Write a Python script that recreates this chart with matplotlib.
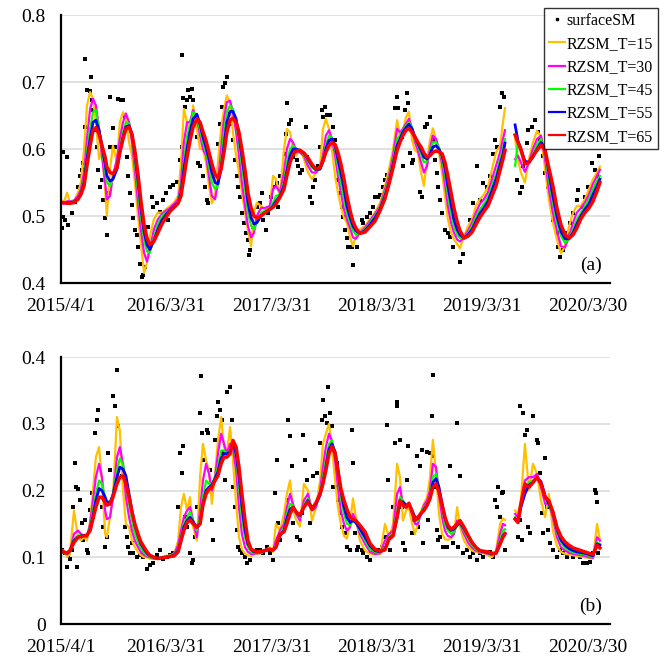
import numpy as np
import matplotlib
matplotlib.use('Agg')
import matplotlib.pyplot as plt
import matplotlib.dates as mdates
from matplotlib.lines import Line2D
from datetime import datetime

plt.rcParams['font.family'] = ['Liberation Serif', 'DejaVu Serif']
nan = float('nan')

# ---------------- data ----------------
start_date = '2015-04-01'
tick_labels = ['2015/4/1', '2016/3/31', '2017/3/31', '2018/3/31', '2019/3/31', '2020/3/30']
series_names = ['RZSM_T=15', 'RZSM_T=30', 'RZSM_T=45', 'RZSM_T=55', 'RZSM_T=65']
series_colors = ['#FFC000', '#FF00FF', '#00FF00', '#0000FF', '#FF0000']

# days since 2015/4/1 (1556 = data gap)
days = [0, 10, 21, 31, 45, 59, 69, 80, 90, 101,
        111, 121, 132, 142, 153, 159, 170, 180, 194, 204,
        215, 225, 236, 246, 256, 267, 277, 288, 298, 308,
        322, 336, 350, 364, 378, 392, 406, 416, 426, 437,
        447, 458, 471, 482, 492, 503, 513, 523, 534, 544,
        555, 565, 575, 586, 596, 607, 617, 627, 638, 648,
        659, 669, 679, 693, 707, 724, 735, 745, 759, 773,
        783, 794, 804, 815, 828, 842, 856, 870, 884, 898,
        908, 918, 929, 939, 950, 960, 970, 981, 991, 1002,
        1012, 1022, 1036, 1054, 1071, 1088, 1106, 1123, 1137, 1151,
        1165, 1175, 1185, 1196, 1206, 1217, 1227, 1237, 1248, 1258,
        1269, 1279, 1289, 1300, 1310, 1321, 1331, 1341, 1352, 1362,
        1373, 1383, 1397, 1411, 1425, 1438, 1452, 1466, 1480, 1494,
        1508, 1522, 1532, 1539, 1556, 1574, 1584, 1594, 1608, 1622,
        1636, 1650, 1664, 1678, 1691, 1705, 1719, 1733, 1747, 1761,
        1775, 1788, 1802, 1816, 1830, 1844, 1858, 1868]

# ---- panel (a) ----
a_T15 = [.525, .520, .535, .520, .522, .535, .550, .600, .665, .685,
         .675, .640, .585, .600, .540, .500, .570, .605, .580, .640,
         .655, .645, .610, .590, .550, .500, .460, .415, .430, .470,
         .495, .505, .505, .510, .515, .520, .530, .580, .660, .640,
         .620, .665, .630, .600, .600, .580, .545, .519, .530, .580,
         .630, .660, .680, .670, .625, .590, .565, .535, .505, .478,
         .455, .505, .520, .515, .510, .515, .560, .555, .530, .600,
         .630, .625, .600, .590, .600, .585, .565, .555, .565, .575,
         .630, .645, .630, .600, .560, .535, .515, .497, .490, .468,
         .455, .470, .480, .485, .495, .505, .520, .545, .570, .600,
         .643, .618, .628, .648, .656, .613, .598, .595, .565, .545,
         .585, .613, .631, .613, .594, .564, .530, .495, .475, .465,
         .458, .452, .470, .485, .495, .515, .525, .532, .544, .570,
         .595, .605, .640, .661, nan, .615, .585, .565, .550, .585,
         .610, .627, .618, .570, .525, .490, .465, .444, .455, .485,
         .505, .515, .515, .525, .540, .555, .565, .574]
a_T30 = [.520, .518, .522, .522, .523, .530, .540, .565, .615, .660,
         .675, .665, .630, .590, .550, .525, .530, .560, .585, .615,
         .640, .653, .640, .610, .570, .520, .480, .445, .432, .450,
         .480, .495, .503, .508, .512, .518, .525, .550, .610, .640,
         .640, .658, .645, .620, .600, .590, .560, .530, .525, .550,
         .600, .645, .670, .672, .655, .625, .590, .550, .515, .485,
         .468, .475, .500, .512, .512, .515, .540, .545, .535, .565,
         .600, .615, .610, .598, .595, .590, .575, .565, .565, .572,
         .590, .620, .628, .615, .590, .560, .535, .510, .495, .482,
         .468, .466, .475, .483, .493, .503, .515, .540, .560, .590,
         .630, .625, .630, .638, .645, .630, .610, .598, .580, .565,
         .575, .600, .620, .615, .600, .578, .548, .515, .490, .475,
         .465, .462, .468, .478, .490, .505, .518, .525, .535, .555,
         .575, .595, .615, .628, nan, .585, .590, .580, .566, .580,
         .600, .615, .620, .585, .540, .505, .478, .455, .453, .470,
         .490, .505, .512, .520, .532, .548, .560, .569]
a_T45 = [.520, .520, .520, .521, .522, .527, .535, .555, .595, .630,
         .655, .658, .630, .600, .568, .550, .545, .555, .575, .600,
         .625, .640, .638, .618, .582, .538, .500, .465, .447, .445,
         .468, .488, .500, .505, .510, .516, .522, .540, .580, .620,
         .635, .655, .650, .628, .610, .595, .575, .550, .540, .545,
         .580, .625, .655, .665, .660, .640, .610, .575, .540, .505,
         .485, .480, .490, .505, .508, .512, .520, .530, .532, .550,
         .580, .600, .605, .600, .598, .592, .582, .572, .568, .570,
         .585, .605, .620, .617, .600, .575, .550, .525, .505, .490,
         .478, .472, .474, .480, .490, .500, .512, .535, .555, .582,
         .615, .620, .628, .635, .640, .632, .615, .605, .592, .580,
         .582, .595, .610, .610, .603, .585, .562, .532, .505, .485,
         .472, .467, .467, .474, .485, .498, .510, .518, .528, .545,
         .562, .585, .600, .615, nan, .575, .610, .595, .578, .580,
         .592, .607, .615, .595, .555, .520, .490, .470, .460, .465,
         .480, .495, .505, .515, .525, .540, .553, .560]
a_T55 = [.520, .520, .520, .520, .521, .526, .533, .550, .585, .615,
         .640, .643, .628, .605, .578, .560, .552, .555, .570, .595,
         .618, .633, .635, .622, .592, .552, .512, .477, .457, .450,
         .463, .480, .494, .502, .509, .515, .520, .535, .570, .600,
         .625, .645, .652, .637, .618, .602, .585, .565, .550, .548,
         .570, .605, .640, .656, .656, .645, .620, .590, .556, .520,
         .497, .488, .490, .500, .505, .510, .515, .522, .530, .545,
         .567, .590, .600, .600, .598, .594, .585, .575, .569, .570,
         .582, .600, .613, .615, .605, .585, .565, .540, .515, .498,
         .485, .478, .474, .478, .487, .497, .510, .530, .550, .577,
         .605, .615, .625, .632, .637, .630, .618, .608, .598, .588,
         .585, .592, .603, .605, .600, .590, .572, .545, .518, .495,
         .480, .472, .467, .472, .480, .492, .504, .512, .522, .538,
         .555, .577, .592, .609, nan, .636, .612, .600, .582, .580,
         .588, .600, .610, .600, .565, .530, .500, .477, .466, .466,
         .475, .488, .500, .510, .518, .532, .545, .555]
a_T65 = [.520, .520, .519, .519, .520, .525, .532, .545, .575, .605,
         .628, .632, .622, .605, .588, .573, .565, .563, .572, .595,
         .615, .630, .633, .622, .598, .562, .523, .487, .467, .457,
         .462, .475, .488, .498, .507, .513, .519, .530, .558, .588,
         .612, .633, .645, .640, .626, .612, .595, .578, .562, .557,
         .570, .595, .625, .643, .646, .640, .625, .600, .568, .535,
         .512, .500, .497, .500, .505, .510, .513, .518, .528, .540,
         .560, .580, .592, .597, .598, .594, .587, .577, .570, .572,
         .582, .595, .605, .610, .607, .595, .578, .555, .530, .508,
         .492, .482, .474, .476, .484, .492, .508, .526, .548, .572,
         .598, .610, .620, .628, .631, .625, .618, .610, .603, .594,
         .588, .590, .595, .597, .596, .593, .580, .560, .535, .512,
         .492, .478, .467, .470, .476, .487, .498, .507, .515, .530,
         .545, .568, .585, .598, nan, .621, .610, .600, .578, .580,
         .590, .598, .606, .598, .572, .545, .512, .487, .472, .467,
         .472, .482, .496, .505, .512, .522, .537, .550]

# ---- panel (b) ----
b_T15 = [.110, .110, .100, .105, .170, .130, .125, .130, .125, .155,
         .200, .250, .265, .215, .135, .130, .160, .190, .310, .290,
         .200, .150, .145, .125, .115, .108, .103, .100, .100, .098,
         .097, .098, .100, .102, .103, .105, .125, .175, .195, .170,
         .190, .145, .125, .220, .270, .245, .230, .180, .225, .275,
         .310, .265, .255, .295, .245, .180, .130, .112, .105, .103,
         .102, .104, .105, .106, .110, .115, .108, .150, .140, .165,
         .195, .215, .170, .156, .146, .210, .200, .155, .175, .215,
         .270, .285, .300, .265, .215, .175, .150, .132, .128, .150,
         .188, .160, .125, .110, .105, .104, .105, .150, .130, .150,
         .240, .220, .155, .170, .175, .150, .135, .150, .170, .180,
         .190, .220, .276, .225, .165, .135, .127, .126, .128, .135,
         .175, .145, .125, .115, .110, .108, .107, .106, .103, .100,
         .110, .150, .158, .156, nan, .170, .165, .185, .270, .200,
         .240, .225, .185, .160, .195, .140, .117, .108, .105, .104,
         .103, .102, .101, .100, .099, .098, .150, .125]
b_T30 = [.108, .108, .105, .108, .135, .140, .135, .132, .130, .150,
         .185, .220, .240, .220, .170, .157, .160, .190, .250, .265,
         .240, .190, .160, .140, .125, .115, .108, .104, .101, .100,
         .098, .098, .100, .101, .102, .104, .118, .140, .160, .170,
         .175, .155, .130, .170, .215, .240, .225, .200, .220, .255,
         .285, .270, .255, .270, .265, .230, .175, .135, .115, .108,
         .105, .105, .106, .107, .110, .112, .110, .125, .140, .150,
         .175, .195, .180, .165, .155, .185, .195, .170, .175, .200,
         .235, .265, .285, .275, .245, .205, .170, .150, .140, .145,
         .165, .155, .135, .120, .108, .105, .106, .125, .135, .140,
         .195, .205, .180, .175, .180, .165, .150, .150, .165, .178,
         .185, .200, .240, .235, .195, .160, .140, .132, .130, .135,
         .155, .150, .135, .122, .114, .110, .108, .107, .105, .103,
         .108, .135, .150, .148, nan, .165, .160, .180, .215, .220,
         .220, .225, .205, .180, .180, .160, .130, .115, .110, .107,
         .105, .104, .103, .102, .100, .099, .130, .125]
b_T45 = [.108, .108, .106, .108, .128, .132, .133, .133, .132, .145,
         .170, .195, .215, .210, .190, .180, .180, .195, .230, .248,
         .240, .210, .180, .155, .135, .123, .113, .107, .103, .100,
         .099, .098, .100, .101, .102, .103, .112, .130, .150, .160,
         .168, .155, .140, .160, .190, .215, .210, .210, .220, .235,
         .260, .260, .255, .260, .270, .250, .205, .160, .130, .115,
         .108, .106, .107, .108, .110, .112, .111, .118, .135, .145,
         .165, .180, .178, .168, .160, .178, .188, .175, .178, .195,
         .220, .245, .270, .275, .255, .225, .190, .165, .150, .148,
         .155, .152, .140, .125, .112, .108, .107, .115, .130, .135,
         .170, .190, .185, .178, .180, .170, .158, .155, .165, .175,
         .180, .192, .220, .225, .205, .175, .150, .140, .135, .138,
         .148, .150, .140, .128, .118, .112, .109, .108, .106, .104,
         .107, .125, .140, .142, nan, .160, .155, .175, .200, .212,
         .215, .220, .210, .190, .178, .165, .138, .122, .114, .110,
         .107, .106, .105, .104, .102, .100, .122, .120]
b_T55 = [.108, .108, .106, .110, .125, .130, .132, .133, .133, .142,
         .162, .185, .203, .200, .190, .183, .182, .193, .220, .235,
         .232, .222, .195, .170, .148, .132, .120, .112, .106, .102,
         .100, .098, .099, .100, .101, .103, .110, .125, .145, .155,
         .160, .153, .145, .150, .180, .200, .205, .208, .218, .228,
         .248, .255, .255, .258, .270, .255, .222, .178, .140, .120,
         .112, .108, .108, .108, .110, .112, .111, .115, .132, .140,
         .158, .172, .175, .168, .162, .175, .185, .173, .180, .193,
         .212, .235, .262, .270, .258, .232, .200, .175, .160, .152,
         .155, .152, .143, .130, .117, .110, .108, .112, .128, .133,
         .160, .182, .183, .178, .180, .170, .160, .158, .165, .172,
         .178, .188, .212, .218, .205, .180, .158, .145, .140, .142,
         .148, .152, .143, .132, .122, .115, .110, .108, .107, .105,
         .106, .120, .132, .136, nan, .158, .152, .175, .195, .208,
         .212, .220, .213, .192, .180, .168, .142, .126, .118, .113,
         .110, .108, .107, .106, .104, .102, .120, .118]
b_T65 = [.108, .108, .106, .110, .122, .130, .131, .132, .133, .140,
         .158, .175, .190, .190, .182, .178, .180, .190, .210, .220,
         .222, .210, .190, .168, .150, .135, .123, .115, .108, .103,
         .100, .098, .099, .100, .101, .102, .108, .125, .140, .152,
         .156, .150, .145, .150, .178, .195, .202, .205, .215, .222,
         .240, .250, .250, .255, .275, .265, .235, .195, .155, .125,
         .112, .110, .108, .109, .110, .112, .111, .115, .135, .138,
         .150, .165, .175, .168, .163, .175, .183, .172, .182, .195,
         .210, .230, .255, .266, .256, .230, .203, .185, .172, .160,
         .157, .155, .148, .138, .121, .112, .109, .111, .127, .132,
         .160, .185, .178, .175, .181, .168, .155, .160, .166, .170,
         .178, .188, .205, .210, .198, .178, .160, .148, .142, .145,
         .150, .155, .145, .133, .122, .115, .110, .109, .108, .106,
         .106, .120, .130, .135, nan, .157, .152, .180, .210, .205,
         .212, .220, .210, .190, .185, .168, .145, .131, .123, .118,
         .114, .112, .110, .108, .106, .104, .118, .114]

# surface soil moisture observations: (day since 2015/4/1, value)
a_surface = [(6, .596), (20, .588), (8, .499), (14, .494), (25, .487), (2, .482), (37, .504), (49, .521),
             (60, .544), (66, .559), (72, .569), (77, .579), (83, .633), (91, .688), (84, .734), (101, .686),
             (104, .707), (106, .673), (112, .658), (118, .628), (124, .603), (129, .569), (135, .544),
             (141, .554), (147, .524), (153, .497), (158, .472), (164, .534), (170, .603), (170, .678),
             (181, .631), (187, .603), (193, .588), (199, .674), (207, .673), (214, .673), (222, .648),
             (228, .588), (233, .559), (239, .534), (245, .516), (251, .497), (256, .479), (262, .472),
             (268, .454), (274, .429), (280, .409), (285, .412), (291, .424), (303, .484), (314, .529),
             (320, .514), (332, .519), (343, .506), (355, .524), (364, .534), (372, .494), (378, .544),
             (389, .546), (401, .551), (412, .584), (418, .603), (418, .740), (422, .676), (430, .663),
             (436, .673), (441, .688), (447, .678), (453, .690), (456, .673), (464, .638), (470, .618),
             (476, .579), (482, .574), (493, .559), (499, .544), (505, .524), (511, .519), (537, .564),
             (545, .608), (551, .638), (557, .663), (563, .693), (568, .698), (576, .707), (586, .653),
             (589, .638), (597, .613), (603, .583), (609, .559), (615, .544), (620, .529), (626, .504),
             (634, .489), (641, .474), (647, .464), (651, .442), (655, .449), (667, .484), (678, .514),
             (690, .519), (696, .534), (701, .494), (710, .479), (719, .504), (727, .529), (734, .544),
             (748, .549), (753, .514), (759, .559), (776, .593), (780, .623), (784, .669), (791, .638),
             (796, .643), (803, .588), (811, .598), (817, .583), (822, .574), (828, .564), (834, .569),
             (849, .633), (854, .588), (863, .529), (869, .519), (874, .544), (880, .554), (892, .574),
             (898, .603), (904, .658), (909, .648), (915, .663), (921, .651), (932, .651), (944, .633),
             (950, .613), (956, .584), (961, .554), (967, .534), (973, .514), (978, .499), (984, .479),
             (990, .467), (996, .454), (1008, .454), (1013, .427), (1025, .454), (1030, .474),
             (1042, .494), (1048, .489), (1060, .499), (1071, .504), (1082, .514), (1088, .529),
             (1100, .529), (1106, .531), (1117, .544), (1123, .554), (1129, .561), (1140, .569),
             (1152, .589), (1158, .661), (1164, .678), (1169, .661), (1181, .618), (1186, .574),
             (1192, .658), (1200, .684), (1204, .668), (1210, .594), (1216, .579), (1221, .584),
             (1244, .536), (1250, .529), (1262, .633), (1267, .638), (1279, .648), (1290, .613),
             (1296, .584), (1302, .564), (1308, .544), (1314, .524), (1320, .504), (1331, .479),
             (1342, .474), (1348, .469), (1360, .454), (1383, .432), (1394, .444), (1406, .474),
             (1418, .494), (1429, .519), (1441, .574), (1452, .524), (1464, .549), (1475, .544),
             (1487, .559), (1498, .593), (1504, .613), (1510, .603), (1522, .663), (1527, .683),
             (1535, .678), (1579, .554), (1591, .534), (1597, .544), (1602, .574), (1614, .609),
             (1620, .628), (1631, .633), (1643, .643), (1655, .625), (1662, .615), (1672, .589),
             (1678, .564), (1689, .544), (1701, .514), (1706, .494), (1718, .474), (1724, .454),
             (1730, .439), (1741, .449), (1753, .474), (1764, .489), (1776, .504), (1787, .524),
             (1793, .539), (1805, .514), (1816, .529), (1828, .544), (1839, .579), (1851, .569),
             (1857, .559), (1866, .589)]

b_surface = [(2, .111), (14, .106), (20, .086), (25, .103), (31, .098), (37, .111), (43, .176), (49, .241),
             (52, .206), (56, .086), (60, .203), (66, .186), (72, .151), (77, .126), (83, .156), (89, .111),
             (95, .106), (101, .171), (106, .196), (112, .161), (118, .286), (124, .306), (129, .321),
             (141, .176), (147, .146), (153, .116), (158, .131), (164, .256), (170, .231), (181, .341),
             (187, .326), (193, .380), (199, .296), (210, .221), (222, .146), (228, .131), (233, .116),
             (239, .106), (245, .121), (251, .106), (262, .101), (274, .103), (285, .101), (297, .083),
             (308, .088), (320, .091), (332, .103), (343, .111), (355, .098), (366, .101), (378, .103),
             (389, .106), (401, .111), (407, .176), (412, .256), (418, .226), (424, .266), (430, .161),
             (436, .146), (447, .106), (453, .091), (459, .096), (464, .131), (470, .176), (482, .316),
             (485, .371), (488, .286), (493, .246), (499, .196), (505, .291), (511, .286), (516, .231),
             (522, .156), (528, .126), (534, .276), (540, .311), (545, .333), (551, .321), (557, .306),
             (563, .256), (568, .216), (574, .348), (586, .355), (592, .306), (597, .206), (603, .176),
             (609, .141), (615, .116), (620, .111), (626, .106), (638, .101), (644, .091), (655, .096),
             (667, .106), (678, .111), (690, .111), (701, .106), (713, .116), (724, .106), (736, .096),
             (742, .196), (748, .246), (753, .151), (759, .126), (770, .146), (782, .186), (788, .306),
             (794, .281), (799, .236), (805, .151), (817, .131), (828, .126), (834, .166), (840, .283),
             (846, .246), (851, .216), (863, .151), (869, .176), (874, .221), (886, .226), (898, .271),
             (904, .306), (909, .336), (915, .311), (921, .301), (926, .355), (932, .316), (938, .296),
             (944, .206), (950, .206), (956, .241), (961, .186), (967, .166), (973, .146), (984, .136),
             (990, .116), (1002, .111), (1008, .291), (1013, .241), (1019, .136), (1025, .111),
             (1030, .116), (1042, .111), (1048, .106), (1060, .101), (1071, .096), (1082, .106),
             (1100, .111), (1112, .116), (1123, .131), (1129, .298), (1134, .216), (1140, .111),
             (1152, .176), (1158, .271), (1164, .333), (1166, .326), (1175, .276), (1181, .176),
             (1186, .121), (1192, .111), (1198, .216), (1204, .266), (1216, .136), (1221, .156),
             (1233, .251), (1238, .146), (1244, .236), (1250, .261), (1256, .121), (1267, .258),
             (1273, .156), (1279, .256), (1285, .311), (1288, .373), (1290, .251), (1296, .206),
             (1302, .141), (1308, .126), (1314, .131), (1325, .116), (1337, .116), (1348, .236),
             (1360, .121), (1371, .301), (1377, .116), (1383, .221), (1394, .106), (1406, .111),
             (1418, .101), (1429, .106), (1441, .096), (1452, .106), (1464, .101), (1475, .106),
             (1487, .108), (1498, .101), (1504, .186), (1510, .176), (1515, .206), (1522, .161),
             (1527, .196), (1533, .198), (1539, .111), (1585, .131), (1591, .156), (1597, .126),
             (1590, .326), (1602, .316), (1608, .283), (1614, .291), (1620, .146), (1626, .136),
             (1637, .311), (1649, .276), (1654, .271), (1660, .226), (1666, .166), (1672, .136),
             (1678, .248), (1683, .176), (1689, .141), (1695, .121), (1706, .111), (1718, .101),
             (1730, .111), (1741, .106), (1753, .101), (1764, .106), (1776, .101), (1787, .106),
             (1799, .101), (1810, .091), (1822, .091), (1834, .093), (1845, .106), (1851, .201),
             (1853, .196), (1857, .183), (1862, .106)]

# ---------------- plotting ----------------
t0 = np.datetime64(start_date)


def to_num(d):
    return mdates.date2num(t0 + np.asarray(d, dtype='int64').astype('timedelta64[D]'))


x_line = to_num(days)
tick_pos = [mdates.date2num(datetime.strptime(s, '%Y/%m/%d')) for s in tick_labels]
x_end = to_num([1903])[0]

fig = plt.figure(figsize=(6.68, 6.62), dpi=100)
ax_a = fig.add_axes([0.0913, 0.5725, 0.8219, 0.4048])
ax_b = fig.add_axes([0.0913, 0.0574, 0.8219, 0.4033])

panels = [
    (ax_a, [a_T15, a_T30, a_T45, a_T55, a_T65], a_surface, (0.4, 0.8), '(a)'),
    (ax_b, [b_T15, b_T30, b_T45, b_T55, b_T65], b_surface, (0.0, 0.4), '(b)'),
]
widths = [1.6, 1.6, 1.6, 2.0, 2.5]

for ax, series, dots, ylim, tag in panels:
    dd = np.array([p[0] for p in dots])
    vv = np.array([p[1] for p in dots])
    ax.scatter(to_num(dd), vv, s=5.5, marker='s', color='black', linewidths=0, zorder=3)
    for vals, c, lw in zip(series, series_colors, widths):
        ax.plot(x_line, vals, color=c, lw=lw, zorder=4, solid_joinstyle='round')
    ax.set_xlim(x_line[0], x_end)
    ax.set_ylim(*ylim)
    yt = np.round(np.arange(ylim[0], ylim[1] + 0.001, 0.1), 1)
    ax.set_yticks(yt)
    ax.set_yticklabels(['0' if v == 0 else f'{v:.1f}' for v in yt])
    ax.set_xticks(tick_pos)
    ax.set_xticklabels(tick_labels)
    ax.tick_params(axis='both', length=0, labelsize=14, pad=11)
    ax.grid(axis='y', color='#dcdcdc', lw=1.2, zorder=0)
    ax.set_axisbelow(True)
    for s in ['top', 'right']:
        ax.spines[s].set_visible(False)
    for s in ['left', 'bottom']:
        ax.spines[s].set_color('black')
        ax.spines[s].set_linewidth(1.6)
        ax.spines[s].set_zorder(5)
    ax.text(0.985, 0.067, tag, transform=ax.transAxes, ha='right', va='center', fontsize=14)

handles = [Line2D([], [], ls='none', marker='s', ms=2, color='black')]
handles += [Line2D([], [], color=c, lw=1.6) for c in series_colors]
leg = fig.legend(handles, ['surfaceSM'] + series_names, loc='upper right',
                 bbox_to_anchor=(0.985, 0.988), fontsize=11.5, frameon=True, fancybox=False,
                 edgecolor='black', handlelength=1.0, handletextpad=0.1, labelspacing=0.45,
                 borderpad=0.3, borderaxespad=0.0)
leg.get_frame().set_linewidth(1.0)

fig.savefig('out.png', dpi=100)
